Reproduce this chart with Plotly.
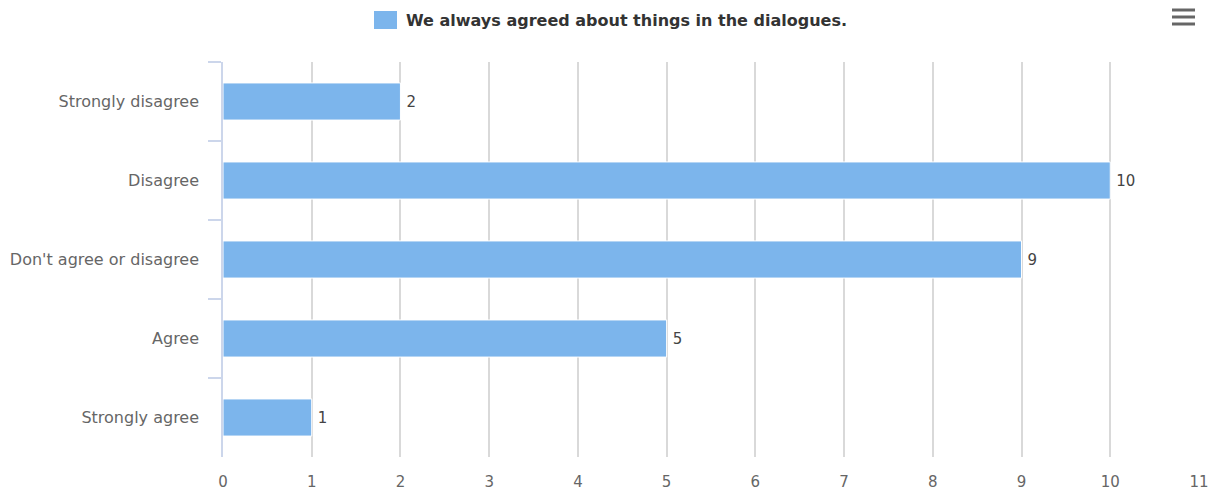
import plotly.graph_objects as go

categories = ["Strongly disagree", "Disagree", "Don't agree or disagree", "Agree", "Strongly agree"]
counts = [2, 10, 9, 5, 1]
series_name = "We always agreed about things in the dialogues."
x_ticks = list(range(0, 12))

bar_color = "#7cb5ec"
label_font = "DejaVu Sans, Verdana, sans-serif"

fig = go.Figure()
fig.add_trace(go.Bar(
    y=categories,
    x=counts,
    orientation="h",
    name=series_name,
    marker=dict(color=bar_color, line=dict(color="#ffffff", width=1)),
    text=["\u2009" + str(v) for v in counts],
    textposition="outside",
    textfont=dict(family=label_font, size=15, color="#444444"),
    cliponaxis=False,
    showlegend=False,
))

fig.update_layout(
    width=1218,
    height=494,
    margin=dict(l=223, r=19, t=62, b=37),
    paper_bgcolor="#ffffff",
    plot_bgcolor="#ffffff",
    bargap=0.53,
    font=dict(family=label_font, size=16, color="#666666"),
    xaxis=dict(
        range=[0, 11],
        tickvals=x_ticks,
        showgrid=True,
        gridcolor="#d9d9d9",
        gridwidth=1.5,
        zeroline=False,
        showline=False,
        ticks="outside",
        ticklen=11,
        tickcolor="rgba(0,0,0,0)",
        tickfont=dict(size=15, color="#666666"),
        automargin=False,
        fixedrange=True,
    ),
    yaxis=dict(
        autorange="reversed",
        showline=True,
        linecolor="#ccd6eb",
        linewidth=1.5,
        ticks="outside",
        tickson="boundaries",
        ticklen=13,
        tickcolor="#ccd6eb",
        tickwidth=1.5,
        ticklabelstandoff=19,
        tickfont=dict(size=16, color="#666666"),
        showgrid=False,
        automargin=False,
        fixedrange=True,
    ),
)

# Legend swatch and label, centred above the plot
fig.add_shape(type="rect", xref="paper", yref="paper",
              x0=(374 - 223) / 976, x1=(397 - 223) / 976,
              y0=1 + (62 - 29) / 395, y1=1 + (62 - 11) / 395,
              fillcolor=bar_color, line=dict(width=0))
fig.add_annotation(xref="paper", yref="paper",
                   x=(404 - 223) / 976, y=1 + (62 - 20) / 395,
                   xanchor="left", yanchor="middle", showarrow=False,
                   text="<b>" + series_name + "</b>",
                   font=dict(family=label_font, size=16, color="#333333"))

# Context-menu button (three bars) in the top-right corner
for yy in (10, 17, 24):
    fig.add_shape(type="line", xref="paper", yref="paper",
                  x0=(1172 - 223) / 976, x1=(1195 - 223) / 976,
                  y0=1 + (62 - yy) / 395, y1=1 + (62 - yy) / 395,
                  line=dict(color="#666666", width=3))

fig.write_html("out.html", config={"displayModeBar": False})
